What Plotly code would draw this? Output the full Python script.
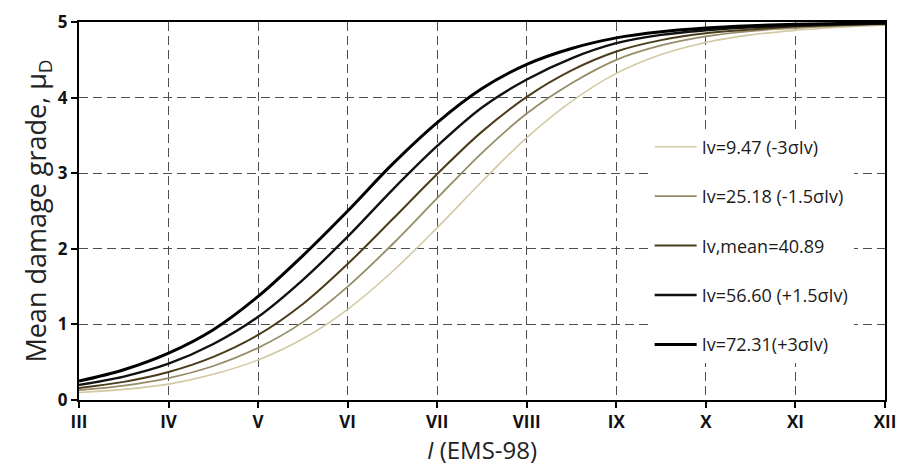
import plotly.graph_objects as go

intensity = [3, 3.5, 4, 4.5, 5, 5.5, 6, 6.5, 7, 7.5, 8, 8.5, 9, 9.5, 10, 10.5, 11, 11.5, 12]
tick_vals = [3, 4, 5, 6, 7, 8, 9, 10, 11, 12]
tick_text = ["III", "IV", "V", "VI", "VII", "VIII", "IX", "X", "XI", "XII"]

mu_m3 = [0.10, 0.14, 0.21, 0.34, 0.53, 0.81, 1.20, 1.70, 2.28, 2.89, 3.47, 3.95, 4.32, 4.57, 4.73, 4.83, 4.89, 4.93, 4.96]
mu_m15 = [0.13, 0.19, 0.29, 0.45, 0.69, 1.03, 1.50, 2.06, 2.67, 3.27, 3.79, 4.19, 4.50, 4.69, 4.81, 4.88, 4.92, 4.95, 4.97]
mu_mean = [0.16, 0.24, 0.37, 0.57, 0.86, 1.27, 1.80, 2.39, 2.99, 3.55, 4.01, 4.36, 4.61, 4.76, 4.85, 4.90, 4.94, 4.96, 4.98]
mu_p15 = [0.20, 0.31, 0.48, 0.74, 1.10, 1.59, 2.16, 2.78, 3.36, 3.87, 4.24, 4.52, 4.72, 4.83, 4.89, 4.93, 4.95, 4.97, 4.98]
mu_p3 = [0.25, 0.40, 0.62, 0.93, 1.37, 1.91, 2.50, 3.12, 3.67, 4.12, 4.44, 4.65, 4.79, 4.87, 4.92, 4.95, 4.97, 4.98, 4.99]

names = ["Iv=9.47 (-3σIv)", "Iv=25.18 (-1.5σIv)", "Iv,mean=40.89",
         "Iv=56.60 (+1.5σIv)", "Iv=72.31(+3σIv)"]
series = [mu_m3, mu_m15, mu_mean, mu_p15, mu_p3]
colors = ["#d2c9a3", "#968c68", "#4a3b1a", "#111111", "#000000"]
widths = [1.6, 1.8, 2.0, 2.4, 3.0]

fig = go.Figure()
for i, (nm, ys, c, w) in enumerate(zip(names, series, colors, widths)):
    fig.add_trace(go.Scatter(
        x=intensity, y=ys, mode="lines", name=nm,
        line=dict(color=c, width=w, shape="spline", smoothing=1.0),
        legendgroup=f"g{i}",
    ))

fig.update_layout(
    width=906, height=468,
    margin=dict(l=79, r=10, t=21, b=68),
    paper_bgcolor="white", plot_bgcolor="white",
    font=dict(family="Open Sans, DejaVu Sans, sans-serif", color="#1a1a1a"),
    showlegend=True,
    legend=dict(
        x=0.708, y=0.718, xanchor="left", yanchor="top",
        bgcolor="white", borderwidth=0,
        font=dict(size=18, color="#1a1a1a"),
        traceorder="grouped", tracegroupgap=23,
        itemwidth=42,
    ),
)

fig.update_xaxes(
    range=[3, 12], tickmode="array", tickvals=tick_vals, ticktext=tick_text,
    showline=True, linecolor="black", linewidth=2, mirror=True,
    ticks="outside", ticklen=6, tickcolor="black", tickwidth=1.5,
    showgrid=True, gridcolor="#4d4d4d", gridwidth=1.3, griddash="9px,5px",
    tickfont=dict(size=17, color="#111111", weight="bold"),
    title=dict(text="<i>I</i> (EMS-98)", font=dict(size=24, color="#222222"), standoff=8),
    zeroline=False,
)
fig.update_yaxes(
    range=[0, 5], dtick=1,
    showline=True, linecolor="black", linewidth=2, mirror=True,
    ticks="outside", ticklen=6, tickcolor="black", tickwidth=1.5,
    showgrid=True, gridcolor="#4d4d4d", gridwidth=1.3, griddash="9px,5px",
    tickfont=dict(size=17, color="#111111", weight="bold"),
    title=dict(text="Mean damage grade, μ<sub>D</sub>", font=dict(size=27, color="#222222"), standoff=2),
    zeroline=False,
)

fig.write_html("out.html")
